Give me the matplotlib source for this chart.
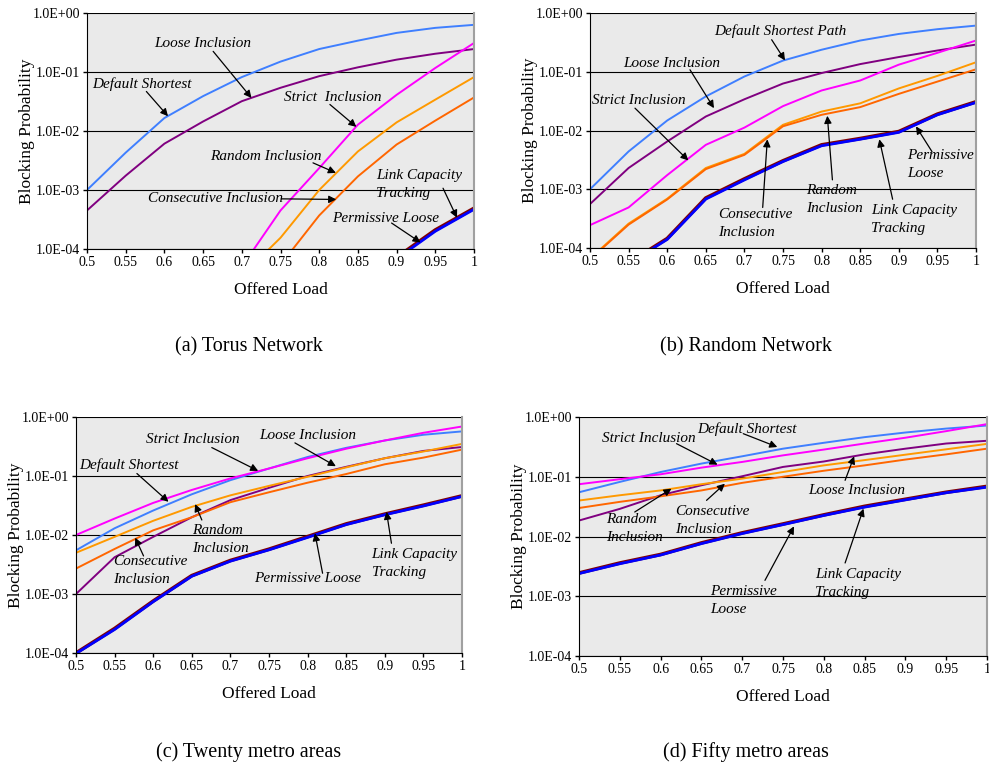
import numpy as np
import matplotlib.pyplot as plt
from matplotlib.ticker import FixedLocator, NullLocator

plt.rcParams['font.family'] = ['Liberation Serif', 'DejaVu Serif']

nan = np.nan
load = [0.5, 0.55, 0.6, 0.65, 0.7, 0.75, 0.8, 0.85, 0.9, 0.95, 1.0]
load_labels = ['0.5', '0.55', '0.6', '0.65', '0.7', '0.75', '0.8', '0.85', '0.9', '0.95', '1']
decades = [1e-4, 1e-3, 1e-2, 1e-1, 1.0]
decade_labels = ['1.0E-04', '1.0E-03', '1.0E-02', '1.0E-01', '1.0E+00']

# (a) torus network
torus_default = [1.0e-3, 4.3e-3, 1.66e-2, 3.9e-2, 8.2e-2, 0.15, 0.245, 0.34, 0.46, 0.56, 0.63]
torus_loose = [4.5e-4, 1.75e-3, 6.1e-3, 1.45e-2, 3.2e-2, 5.4e-2, 8.5e-2, 0.12, 0.162, 0.204, 0.245]
torus_strict = [nan, nan, nan, nan, 5.0e-5, 4.5e-4, 2.35e-3, 1.28e-2, 4.1e-2, 0.117, 0.31]
torus_random = [nan, nan, nan, nan, 3.5e-5, 1.55e-4, 1.0e-3, 4.5e-3, 1.4e-2, 3.4e-2, 8.2e-2]
torus_consec = [nan, nan, nan, nan, nan, 5.4e-5, 3.7e-4, 1.7e-3, 5.9e-3, 1.5e-2, 3.7e-2]
torus_linkcap = [nan, nan, nan, nan, nan, nan, nan, nan, 7.2e-5, 2.1e-4, 4.9e-4]
torus_permissive = [nan, nan, nan, nan, nan, nan, nan, nan, 6.8e-5, 2.0e-4, 4.7e-4]

# (b) random network
random_default = [1.0e-3, 4.4e-3, 1.48e-2, 3.8e-2, 8.3e-2, 0.155, 0.237, 0.34, 0.44, 0.53, 0.61]
random_loose = [5.6e-4, 2.3e-3, 6.5e-3, 1.73e-2, 3.4e-2, 6.3e-2, 9.5e-2, 0.135, 0.178, 0.23, 0.29]
random_strict = [2.45e-4, 4.9e-4, 1.74e-3, 5.7e-3, 1.12e-2, 2.6e-2, 4.8e-2, 7.1e-2, 0.132, 0.21, 0.34]
random_random = [6.6e-5, 2.6e-4, 6.9e-4, 2.3e-3, 4.0e-3, 1.25e-2, 2.1e-2, 2.9e-2, 5.2e-2, 8.5e-2, 0.145]
random_consec = [6.4e-5, 2.5e-4, 6.7e-4, 2.2e-3, 3.85e-3, 1.18e-2, 1.85e-2, 2.5e-2, 4.2e-2, 6.8e-2, 0.11]
random_linkcap = [nan, 5.6e-5, 1.45e-4, 7.1e-4, 1.5e-3, 3.05e-3, 5.7e-3, 7.3e-3, 9.6e-3, 1.9e-2, 3.08e-2]
random_permissive = [nan, 5.4e-5, 1.4e-4, 6.8e-4, 1.44e-3, 2.96e-3, 5.5e-3, 7.1e-3, 9.3e-3, 1.85e-2, 3.0e-2]

# (c) twenty metro areas
twenty_default = [5.5e-3, 1.3e-2, 2.6e-2, 4.9e-2, 8.5e-2, 0.134, 0.21, 0.30, 0.40, 0.50, 0.57]
twenty_loose = [1.0e-3, 4.2e-3, 9.3e-3, 2.0e-2, 3.9e-2, 6.3e-2, 0.1, 0.143, 0.2, 0.266, 0.31]
twenty_strict = [1.0e-2, 1.9e-2, 3.5e-2, 5.8e-2, 9.1e-2, 0.134, 0.2, 0.29, 0.40, 0.54, 0.69]
twenty_random = [5.0e-3, 9.3e-3, 1.74e-2, 3.0e-2, 4.7e-2, 6.8e-2, 9.7e-2, 0.14, 0.2, 0.26, 0.35]
twenty_consec = [2.7e-3, 5.8e-3, 1.2e-2, 2.0e-2, 3.6e-2, 5.3e-2, 7.7e-2, 0.108, 0.158, 0.205, 0.28]
twenty_linkcap = [1.0e-4, 2.6e-4, 7.6e-4, 2.05e-3, 3.7e-3, 5.75e-3, 9.4e-3, 1.54e-2, 2.26e-2, 3.2e-2, 4.6e-2]
twenty_permissive = [9.8e-5, 2.5e-4, 7.4e-4, 2.0e-3, 3.6e-3, 5.6e-3, 9.1e-3, 1.5e-2, 2.2e-2, 3.1e-2, 4.5e-2]

# (d) fifty metro areas
fifty_default = [0.055, 0.082, 0.12, 0.166, 0.22, 0.295, 0.37, 0.46, 0.55, 0.64, 0.72]
fifty_loose = [0.0185, 0.029, 0.049, 0.072, 0.102, 0.146, 0.18, 0.237, 0.295, 0.36, 0.40]
fifty_strict = [0.075, 0.091, 0.11, 0.142, 0.177, 0.228, 0.285, 0.36, 0.45, 0.58, 0.76]
fifty_random = [0.04, 0.049, 0.059, 0.075, 0.093, 0.12, 0.155, 0.19, 0.234, 0.288, 0.355]
fifty_consec = [0.030, 0.038, 0.047, 0.059, 0.079, 0.1, 0.126, 0.155, 0.194, 0.237, 0.295]
fifty_linkcap = [2.45e-3, 3.6e-3, 5.0e-3, 7.8e-3, 1.15e-2, 1.62e-2, 2.3e-2, 3.2e-2, 4.2e-2, 5.5e-2, 0.069]
fifty_permissive = [2.4e-3, 3.5e-3, 4.9e-3, 7.6e-3, 1.12e-2, 1.58e-2, 2.25e-2, 3.1e-2, 4.1e-2, 5.4e-2, 0.067]

# labels: text, ha, text x, text log10(y), tail x, tail log, head x, head log
torus_notes = [
    ('Loose Inclusion', 'center', 0.649, -0.525, 0.663, -0.65, 0.7125, -1.44),
    ('Default Shortest', 'center', 0.5716, -1.20, 0.5767, -1.33, 0.6047, -1.75),
    ('Strict  Inclusion', 'center', 0.817, -1.43, 0.8138, -1.55, 0.848, -1.93),
    ('Random Inclusion', 'center', 0.731, -2.43, 0.792, -2.54, 0.8216, -2.71),
    ('Consecutive Inclusion', 'center', 0.6664, -3.14, 0.751, -3.15, 0.822, -3.16),
    ('Link Capacity\nTracking', 'left', 0.874, -2.90, 0.960, -2.97, 0.978, -3.47),
    ('Permissive Loose', 'center', 0.886, -3.49, 0.8935, -3.56, 0.931, -3.89),
]
random_notes = [
    ('Default Shortest Path', 'center', 0.747, -0.3125, 0.7353, -0.4545, 0.7526, -0.807),
    ('Loose Inclusion', 'center', 0.6058, -0.852, 0.6295, -0.966, 0.6606, -1.62),
    ('Strict Inclusion', 'center', 0.5626, -1.489, 0.5583, -1.62, 0.6274, -2.51),
    ('Consecutive\nInclusion', 'left', 0.6662, -3.58, 0.7237, -3.31, 0.7297, -2.15),
    ('Random\nInclusion', 'left', 0.78, -3.18, 0.814, -2.84, 0.8074, -1.75),
    ('Link Capacity\nTracking', 'left', 0.864, -3.52, 0.892, -3.17, 0.8748, -2.15),
    ('Permissive\nLoose', 'left', 0.911, -2.585, 0.943, -2.36, 0.9223, -1.93),
]
twenty_notes = [
    ('Strict Inclusion', 'center', 0.6513, -0.383, 0.6759, -0.518, 0.736, -0.913),
    ('Loose Inclusion', 'center', 0.7996, -0.315, 0.7836, -0.439, 0.8366, -0.834),
    ('Default Shortest', 'center', 0.568, -0.822, 0.5789, -0.958, 0.6198, -1.437),
    ('Random\nInclusion', 'left', 0.65, -2.07, 0.663, -1.746, 0.6543, -1.476),
    ('Consecutive\nInclusion', 'left', 0.5478, -2.61, 0.5875, -2.355, 0.5767, -2.045),
    ('Link Capacity\nTracking', 'left', 0.8828, -2.48, 0.9086, -2.14, 0.9022, -1.606),
    ('Permissive Loose', 'center', 0.7996, -2.73, 0.8194, -2.648, 0.8095, -1.97),
]
fifty_notes = [
    ('Default Shortest', 'center', 0.7062, -0.195, 0.7013, -0.279, 0.743, -0.502),
    ('Strict Inclusion', 'center', 0.5859, -0.363, 0.6195, -0.446, 0.6698, -0.798),
    ('Random\nInclusion', 'left', 0.5336, -1.86, 0.5683, -1.59, 0.6133, -1.20),
    ('Consecutive\nInclusion', 'left', 0.6174, -1.73, 0.6563, -1.395, 0.6788, -1.116),
    ('Loose Inclusion', 'center', 0.8404, -1.227, 0.8261, -1.06, 0.8372, -0.658),
    ('Link Capacity\nTracking', 'left', 0.7893, -2.78, 0.8261, -2.443, 0.8486, -1.534),
    ('Permissive\nLoose', 'left', 0.6604, -3.07, 0.7279, -2.734, 0.7635, -1.83),
]


def draw_panel(ax, curves, notes):
    default, loose, strict, rnd, consec, linkcap, permissive = curves
    ax.set_facecolor('#eaeaea')
    ax.plot(load, default, color='#3f7fff', lw=1.4)
    ax.plot(load, loose, color='#800080', lw=1.4)
    ax.plot(load, strict, color='#ff00ff', lw=1.4)
    ax.plot(load, rnd, color='#ff9900', lw=1.4)
    ax.plot(load, consec, color='#ff6600', lw=1.4)
    ax.plot(load, linkcap, color='#800000', lw=2.6)
    ax.plot(load, permissive, color='#0000ff', lw=2.0)

    ax.set_yscale('log')
    ax.set_xlim(0.5, 1.0)
    ax.set_ylim(1e-4, 1.0)
    ax.xaxis.set_major_locator(FixedLocator(load))
    ax.set_xticklabels(load_labels)
    ax.yaxis.set_major_locator(FixedLocator(decades))
    ax.yaxis.set_minor_locator(NullLocator())
    ax.set_yticklabels(decade_labels)
    ax.tick_params(labelsize=10, length=3, width=1, pad=2, direction='out')
    ax.yaxis.grid(True, color='black', lw=0.8)
    ax.set_axisbelow(True)
    ax.spines['top'].set_visible(False)
    ax.spines['right'].set_color('#a0a0a0')
    ax.spines['right'].set_linewidth(1.5)
    ax.set_xlabel('Offered Load', fontsize=12.5)
    ax.set_ylabel('Blocking Probability', fontsize=12.5)

    for text, ha, tx, ty, ax0, ay0, hx, hy in notes:
        ax.text(tx, 10 ** ty, text, ha=ha, va='center', fontsize=11,
                style='italic', linespacing=1.5)
        ax.annotate('', xy=(hx, 10 ** hy), xytext=(ax0, 10 ** ay0),
                    arrowprops=dict(arrowstyle='-|>', color='black', lw=0.9,
                                    mutation_scale=11, shrinkA=0, shrinkB=0))


W, H = 989, 767
fig = plt.figure(figsize=(W / 100, H / 100), dpi=100)

panels = [
    ((87, 13, 474, 249), (torus_default, torus_loose, torus_strict, torus_random,
                          torus_consec, torus_linkcap, torus_permissive), torus_notes,
     '(a) Torus Network', 249, 347),
    ((590, 13, 976, 248), (random_default, random_loose, random_strict, random_random,
                           random_consec, random_linkcap, random_permissive), random_notes,
     '(b) Random Network', 746, 347),
    ((76, 417, 462, 653), (twenty_default, twenty_loose, twenty_strict, twenty_random,
                           twenty_consec, twenty_linkcap, twenty_permissive), twenty_notes,
     '(c) Twenty metro areas', 249, 752),
    ((579, 417, 987, 656), (fifty_default, fifty_loose, fifty_strict, fifty_random,
                            fifty_consec, fifty_linkcap, fifty_permissive), fifty_notes,
     '(d) Fifty metro areas', 746, 752),
]

for (x0, y0, x1, y1), curves, notes, caption, cx, cy in panels:
    ax = fig.add_axes([x0 / W, 1 - y1 / H, (x1 - x0) / W, (y1 - y0) / H])
    draw_panel(ax, curves, notes)
    ax.xaxis.set_label_coords(0.5, -33 / (y1 - y0))
    ax.yaxis.set_label_coords(-52 / (x1 - x0), 0.5)
    fig.text(cx / W, 1 - cy / H, caption, ha='center', va='center', fontsize=14.5)

fig.savefig('out.png', dpi=100)
